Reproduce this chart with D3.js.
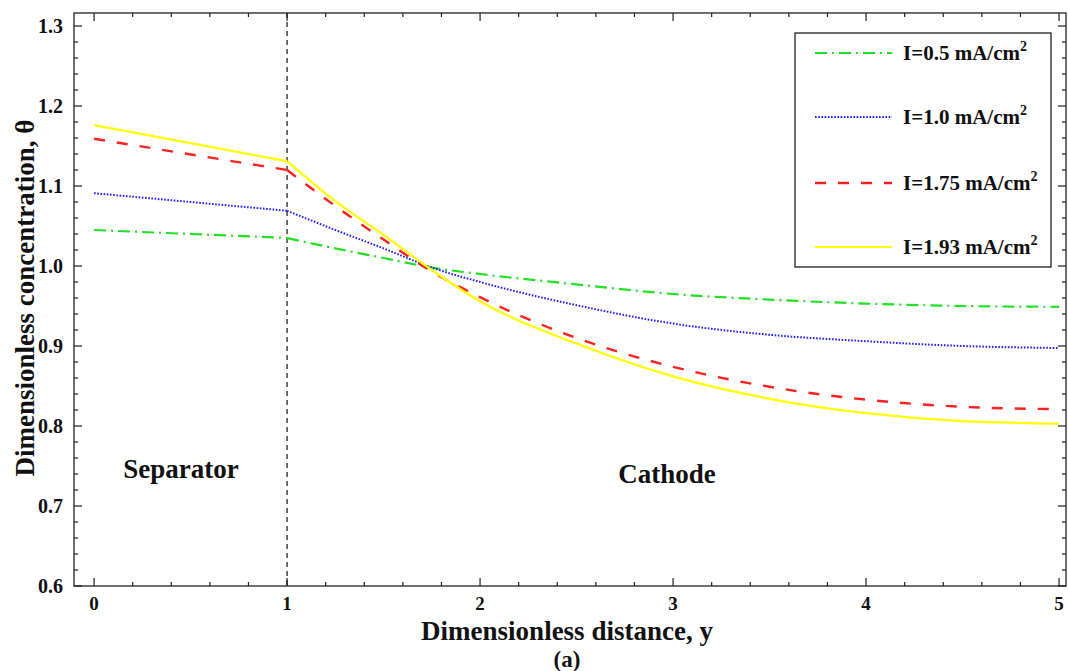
<!DOCTYPE html>
<html>
<head>
<meta charset="utf-8">
<script src="https://cdn.jsdelivr.net/npm/d3@7"></script>
<style>
  body { margin: 0; background: #fff; }
  svg { display: block; }
  text { font-family: "Liberation Serif", "Times New Roman", "DejaVu Serif", serif; font-weight: bold; fill: #111; }
</style>
</head>
<body>
<svg id="chart" width="1068" height="671"></svg>
<script>
// positions along the cell (dimensionless distance)
const xs = [0, 1, 1.25, 1.5, 1.75, 2, 2.5, 3, 3.5, 4, 4.5, 5];

// dimensionless concentration for each current density
const theta_05  = [1.045, 1.035, 1.022, 1.010, 0.998, 0.990, 0.977, 0.965, 0.958, 0.953, 0.950, 0.949];
const theta_10  = [1.091, 1.069, 1.045, 1.022, 0.998, 0.980, 0.951, 0.928, 0.914, 0.906, 0.900, 0.8975];
const theta_175 = [1.159, 1.120, 1.075, 1.033, 0.993, 0.961, 0.910, 0.874, 0.849, 0.833, 0.824, 0.821];
const theta_193 = [1.176, 1.131, 1.081, 1.039, 0.995, 0.956, 0.903, 0.862, 0.834, 0.816, 0.806, 0.803];

const seriesLabels = ['I=0.5 mA/cm', 'I=1.0 mA/cm', 'I=1.75 mA/cm', 'I=1.93 mA/cm'];
const seriesValues = [theta_05, theta_10, theta_175, theta_193];
const seriesColors = ['#22e022', '#2020ff', '#ff2020', '#ffff00'];
const seriesDash = ['12,5,2,5', '1.6,1.6', '11,12', null];
const seriesWidth = [2.2, 2, 2.4, 2.2];

const xTicks = [0, 1, 2, 3, 4, 5];
const yTicks = [0.6, 0.7, 0.8, 0.9, 1.0, 1.1, 1.2, 1.3];

const svg = d3.select('#chart');

const LEFT = 74, RIGHT = 1066, TOP = 13, BOTTOM = 586;

const x = d3.scaleLinear().domain([-0.104, 5.036]).range([LEFT, RIGHT]);
const y = d3.scaleLinear().domain([0.6, 1.31625]).range([BOTTOM, TOP]);

// frame
svg.append('rect')
    .attr('x', LEFT).attr('y', TOP)
    .attr('width', RIGHT - LEFT).attr('height', BOTTOM - TOP)
    .attr('fill', 'none').attr('stroke', '#222').attr('stroke-width', 1.3);

// minor + major ticks, pointing inward on all four sides
const xMinor = d3.range(0, 5.001, 0.2).map(v => +v.toFixed(2));
const yMinor = d3.range(0.6, 1.3001, 0.02).map(v => +v.toFixed(2));

function isMajorX(v) { return Math.abs(v - Math.round(v)) < 1e-6; }
function isMajorY(v) { return Math.abs(v * 10 - Math.round(v * 10)) < 1e-6; }

const tickG = svg.append('g').attr('stroke', '#222').attr('stroke-width', 1.2);
xMinor.forEach(v => {
    const len = isMajorX(v) ? 8 : 4;
    tickG.append('line').attr('x1', x(v)).attr('x2', x(v)).attr('y1', BOTTOM).attr('y2', BOTTOM - len);
    tickG.append('line').attr('x1', x(v)).attr('x2', x(v)).attr('y1', TOP).attr('y2', TOP + len);
});
yMinor.forEach(v => {
    const len = isMajorY(v) ? 8 : 4;
    tickG.append('line').attr('y1', y(v)).attr('y2', y(v)).attr('x1', LEFT).attr('x2', LEFT + len);
    tickG.append('line').attr('y1', y(v)).attr('y2', y(v)).attr('x1', RIGHT).attr('x2', RIGHT - len);
});

// tick labels
svg.append('g').selectAll('text').data(xTicks).join('text')
    .attr('x', d => x(d)).attr('y', 610)
    .attr('text-anchor', 'middle').attr('font-size', 19)
    .text(d => d);

svg.append('g').selectAll('text').data(yTicks).join('text')
    .attr('x', 63).attr('y', d => y(d) + 7)
    .attr('text-anchor', 'end').attr('font-size', 20)
    .text(d => d.toFixed(1));

// axis titles
svg.append('text')
    .attr('x', 567).attr('y', 640)
    .attr('text-anchor', 'middle').attr('font-size', 27)
    .text('Dimensionless distance, y');

svg.append('text')
    .attr('x', 567).attr('y', 667)
    .attr('text-anchor', 'middle').attr('font-size', 23)
    .text('(a)');

svg.append('text')
    .attr('transform', 'translate(34,' + 298 + ') rotate(-90)')
    .attr('text-anchor', 'middle').attr('font-size', 27)
    .text('Dimensionless concentration, \u03b8');

// separator / cathode boundary
svg.append('line')
    .attr('x1', x(1)).attr('x2', x(1)).attr('y1', TOP).attr('y2', BOTTOM)
    .attr('stroke', '#111').attr('stroke-width', 1.2).attr('stroke-dasharray', '5,4');

svg.append('text').attr('x', 181).attr('y', 478)
    .attr('text-anchor', 'middle').attr('font-size', 27).text('Separator');
svg.append('text').attr('x', 667).attr('y', 483)
    .attr('text-anchor', 'middle').attr('font-size', 27).text('Cathode');

// curves: linear across the separator, smooth in the cathode
const line = d3.line().x(d => x(d[0])).y(d => y(d[1]));
const curve = d3.line().x(d => x(d[0])).y(d => y(d[1])).curve(d3.curveMonotoneX);

const plot = svg.append('g');
seriesValues.forEach((vals, i) => {
    const pts = xs.map((v, j) => [v, vals[j]]);
    const sep = pts.filter(p => p[0] <= 1);
    const cat = pts.filter(p => p[0] >= 1);
    [[sep, line], [cat, curve]].forEach(([data, gen]) => {
        plot.append('path')
            .attr('d', gen(data))
            .attr('fill', 'none')
            .attr('stroke', seriesColors[i])
            .attr('stroke-width', seriesWidth[i])
            .attr('stroke-dasharray', seriesDash[i]);
    });
});

// legend
const legend = svg.append('g');
legend.append('rect')
    .attr('x', 795).attr('y', 33).attr('width', 256).attr('height', 234)
    .attr('fill', '#fff').attr('stroke', '#222').attr('stroke-width', 1.3);

const legendY = [53, 117, 183, 247];
seriesLabels.forEach((lab, i) => {
    legend.append('line')
        .attr('x1', 815).attr('x2', 892).attr('y1', legendY[i]).attr('y2', legendY[i])
        .attr('stroke', seriesColors[i])
        .attr('stroke-width', seriesWidth[i])
        .attr('stroke-dasharray', seriesDash[i]);
    const t = legend.append('text')
        .attr('x', 903).attr('y', legendY[i] + 7)
        .attr('font-size', 21);
    t.append('tspan').text(lab);
    t.append('tspan').attr('dy', -9).attr('font-size', 14).text('2');
});
</script>
</body>
</html>
